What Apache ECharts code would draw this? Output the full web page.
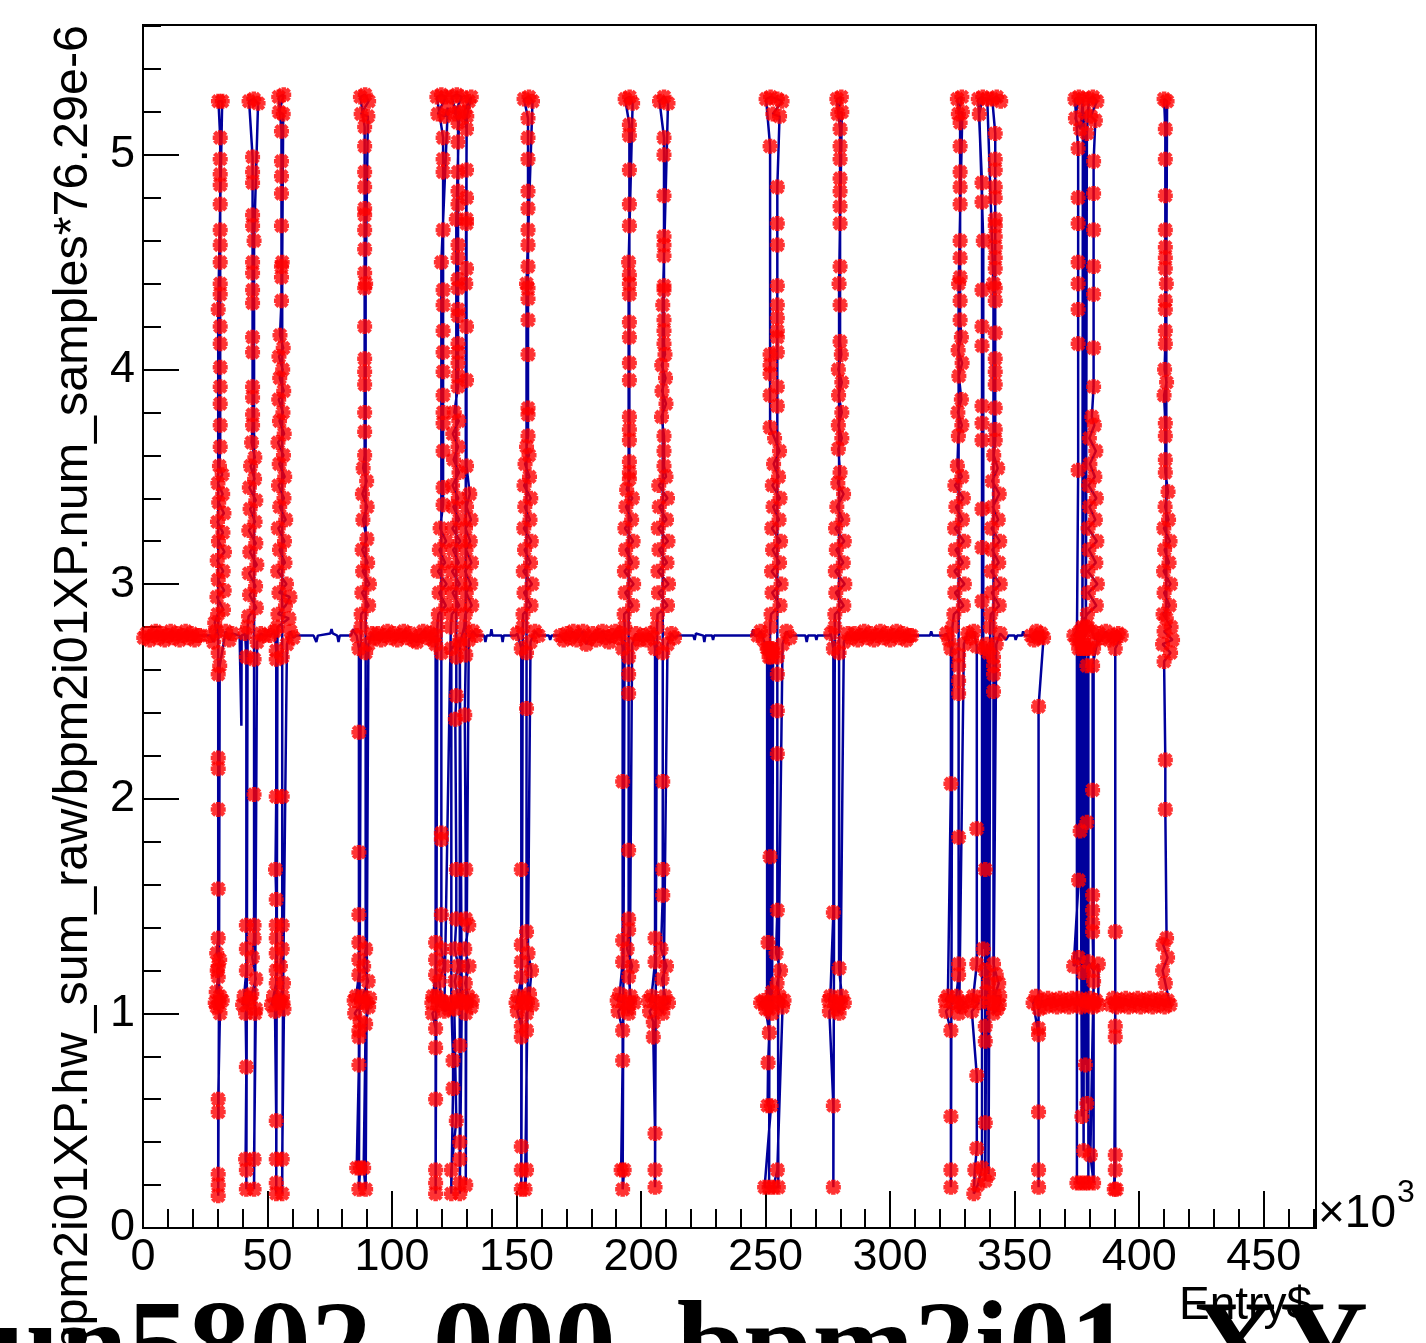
<!DOCTYPE html>
<html>
<head>
<meta charset="utf-8">
<script src="https://cdn.jsdelivr.net/npm/echarts@6/dist/echarts.min.js"></script>
<style>
html,body{margin:0;padding:0;background:#fff;}
#chart{width:1426px;height:1343px;}
</style>
</head>
<body>
<div id="chart"></div>
<script>
// Entry$ (x 10^3) vs value; tick labels
const xTickLabels = ['0','50','100','150','200','250','300','350','400','450'];
const yTickLabels = ['0','1','2','3','4','5'];

// ---- red segments (also part of the blue trace) ----
const band0 = [[0.3,2.75],[1.5,2.77],[2.7,2.74],[3.9,2.76],[5.1,2.78],[6.3,2.75],[7.5,2.77],[8.7,2.74],[9.9,2.76],[11.1,2.78],[12.3,2.75],[13.5,2.77],[14.7,2.74],[15.9,2.76],[17.1,2.78],[18.3,2.75],[19.5,2.77],[20.7,2.74],[21.9,2.76],[22.8,2.76]];
const burst1 = [[27.0,2.76],[28.3,2.73],[29.5,2.78],[28.8,2.82],
[30.0,2.86],[32.3,2.88],[29.7,2.94],[32.6,2.97],[30.2,3.02],[32.2,3.06],[29.8,3.11],[32.7,3.15],[30.3,3.20],[32.1,3.24],[29.9,3.29],[32.5,3.33],[30.4,3.38],[32.0,3.42],[30.1,3.47],[31.8,3.51],[30.7,3.55],
[31.0,3.64],[31.0,3.74],[31.0,3.84],[31.0,3.92],[31.0,4.01],[31.0,4.12],[31.0,4.20],[31.0,4.35],[31.0,4.40],[31.0,4.50],[31.0,4.58],[31.0,4.65],[31.0,4.77],[31.0,4.86],[31.0,4.91],[31.0,4.98],[31.0,5.08],[30.3,5.25],[31.8,5.25],
[30.2,4.28],[30.2,2.68],[30.2,2.58],[30.2,2.19],[30.2,2.14],[30.2,1.95],[30.2,1.58],[30.2,1.35],[29.6,1.28],[30.8,1.25],[30.2,1.22],[29.8,1.20],[30.2,1.17],[29.4,1.10],[30.9,1.08],[31.8,1.06],[29.0,1.05],[29.6,1.03],[30.9,1.00],[30.2,0.60],[30.2,0.54],[30.2,0.25],[30.2,0.20],[30.2,0.15],
[30.5,1.05],[30.8,2.62],[33.2,2.78],[34.6,2.74],[35.8,2.77]];
const burst2 = [[41.0,2.77],[41.5,2.66],[41.5,1.41],[41.5,1.30],[41.5,1.20],[40.6,1.08],[40.0,1.04],[42.4,1.05],[43.0,1.07],[41.2,1.00],[41.5,0.75],[41.2,0.32],[41.5,0.27],[41.5,0.18],
[42.0,2.80],[42.4,2.85],[45.5,2.89],[42.8,2.95],[45.2,2.99],[42.6,3.05],[45.7,3.09],[42.9,3.15],[45.3,3.19],[42.5,3.25],[45.0,3.29],[43.0,3.35],[45.3,3.39],[42.7,3.45],[44.8,3.49],[43.2,3.55],[44.9,3.59],[43.6,3.66],
[44.0,3.74],[44.0,3.79],[44.0,3.87],[44.0,3.92],[44.0,4.08],[44.0,4.15],[44.0,4.31],[44.0,4.37],[44.0,4.45],[44.0,4.50],[44.0,4.67],[44.0,4.72],[44.0,4.87],[44.0,4.92],[44.0,4.99],[42.6,5.25],[44.5,5.26],[46.2,5.24],
[44.6,4.60],[44.6,2.65],[44.6,2.02],[44.6,1.41],[44.6,1.35],[43.9,1.26],[45.3,1.16],[43.7,1.09],[45.3,1.02],[44.6,0.32],[44.6,0.18],
[45.0,1.00],[45.8,2.73],[47.3,2.77],[48.6,2.76]];
const burst3 = [[51.0,2.76],[52.8,2.78],[53.5,2.69],[53.5,2.65],[53.5,2.01],[53.2,1.67],[53.5,1.53],[53.5,1.41],[53.5,1.35],[53.5,1.28],[53.5,1.20],[53.5,1.14],[52.4,1.08],[51.6,1.04],[54.6,1.05],[53.0,1.01],[53.5,0.50],[53.5,0.32],[53.5,0.21],[53.5,0.16],
[54.0,2.80],[58.6,2.84],[54.2,2.86],[57.2,2.90],[59.0,2.94],[54.6,2.96],[57.6,3.00],[54.1,3.06],[57.0,3.10],[54.8,3.16],[56.8,3.20],[54.3,3.26],[57.3,3.30],[54.9,3.36],[56.6,3.40],[54.4,3.46],[56.9,3.50],[54.7,3.56],[56.4,3.60],[54.2,3.66],[56.7,3.70],[54.8,3.76],[56.2,3.80],[54.5,3.86],[56.5,3.90],[54.9,3.96],[56.1,4.00],[54.6,4.06],[56.3,4.10],[55.0,4.16],
[55.6,4.32],[55.6,4.43],[55.6,4.48],[55.6,4.67],[55.6,4.82],[55.6,4.90],[55.6,4.97],[55.6,5.11],[54.5,5.27],[56.5,5.28],[54.7,5.20],[56.3,5.19],
[55.9,4.50],[55.9,2.66],[55.9,2.01],[55.9,1.41],[55.9,1.30],[55.2,1.22],[56.4,1.14],[55.0,1.06],[56.0,1.08],[56.6,1.02],[55.9,0.32],[55.9,0.16],
[56.2,1.05],[57.8,2.72],[59.2,2.78],[60.3,2.75]];
const burst4 = [[85.8,2.76],[86.7,2.70],[86.7,2.31],[86.7,1.75],[86.7,1.46],[86.7,1.33],[86.7,1.25],[86.7,1.18],[85.6,1.08],[84.8,1.06],[87.8,1.05],[85.0,1.00],[87.2,0.96],[86.7,0.92],[86.7,0.89],[86.7,0.76],[85.8,0.28],[87.2,0.28],[86.7,0.18],
[87.5,2.80],[87.6,2.86],[90.6,2.90],[87.9,2.96],[90.9,3.00],[88.2,3.06],[90.2,3.10],[88.0,3.16],[89.9,3.21],[88.3,3.30],[90.0,3.36],[88.1,3.42],[89.8,3.48],[88.4,3.54],
[89.0,3.60],[89.0,3.71],[89.0,3.80],[89.0,3.93],[89.0,3.99],[89.0,4.05],[89.0,4.20],[89.0,4.38],[89.0,4.45],[89.0,4.56],[89.0,4.65],[89.0,4.72],[89.0,4.75],[89.0,4.85],[89.0,4.92],[89.0,5.04],[89.0,5.13],[87.3,5.27],[89.2,5.28],[90.6,5.25],[87.6,5.19],[90.3,5.18],
[89.4,4.40],[89.4,2.68],[89.4,1.30],[88.6,1.22],[90.4,1.15],[88.2,1.08],[91.0,1.07],[90.6,1.03],[89.4,0.95],[88.6,0.28],[89.4,0.18],
[89.8,1.05],[90.5,2.72],[92.0,2.77]];
const band1 = [[93.0,2.75],[94.3,2.77],[95.6,2.74],[96.9,2.76],[98.2,2.78],[99.5,2.75],[100.8,2.77],[102.1,2.74],[103.4,2.76],[104.7,2.78],[106.0,2.75],[107.3,2.77],[108.6,2.74],[109.9,2.73],[111.2,2.76],[112.5,2.78],[113.8,2.75],[115.1,2.77],[116.4,2.74],[117.4,2.76]];
const burst5 = [[117.5,2.72],[117.5,1.33],[117.5,1.25],[117.5,1.18],[116.4,1.08],[116.0,1.05],[118.0,1.08],[118.6,1.04],[116.2,1.00],[117.5,0.93],[117.5,0.84],[117.5,0.60],[117.5,0.27],[117.5,0.21],[117.5,0.16],
[118.2,2.80],[118.6,2.86],[121.6,2.90],[118.9,2.96],[121.9,3.00],[118.4,3.06],[121.3,3.10],[119.0,3.16],[121.7,3.20],[119.3,3.26],
[120.5,3.37],[120.5,3.45],[120.5,3.62],[120.5,3.75],[120.5,3.80],[120.5,3.88],[120.5,3.99],[120.5,4.08],[120.5,4.18],[120.5,4.30],[120.5,4.37],[120.5,4.65],[120.5,4.92],[120.5,4.98],[120.5,5.08],[118.0,5.27],[119.8,5.28],[121.6,5.27],[118.4,5.19],[121.2,5.18],[122.4,5.22],
[119.8,4.50],[119.8,2.68],[119.8,1.84],[119.8,1.81],[119.8,1.46],[119.8,1.30],[120.8,1.22],[119.0,1.15],[119.8,1.06],[121.8,1.05],[122.8,1.02],[121.0,1.01],
[123.6,2.80],[124.0,2.86],[127.0,2.90],[124.3,2.96],[127.2,3.00],[124.1,3.06],[126.8,3.10],[124.5,3.16],[127.4,3.20],[124.2,3.26],[127.0,3.30],[124.6,3.36],[126.6,3.40],[124.3,3.46],[126.9,3.52],[124.7,3.58],[126.5,3.64],[124.4,3.70],[126.8,3.76],[125.0,3.80],
[126.5,3.92],[126.5,3.97],[126.5,4.03],[126.5,4.08],[126.5,4.12],[126.5,4.25],[126.5,4.28],[126.5,4.38],[126.5,4.42],[126.5,4.52],[126.5,4.58],[126.5,4.77],[126.5,4.83],[126.5,4.92],[126.5,5.06],[126.5,5.15],[124.0,5.27],[126.0,5.28],[128.0,5.27],[125.0,5.19],[127.0,5.20],
[125.8,4.70],[125.8,2.66],[125.8,2.48],[125.4,2.37],[125.8,1.67],[125.8,1.44],[125.2,1.30],[126.6,1.22],[125.2,1.15],[126.4,1.08],[127.0,1.06],[125.0,1.02],[125.8,0.50],[123.8,0.27],[123.8,0.16],[124.5,0.65],[124.5,0.78],[123.8,1.05],[123.8,2.70],
[127.2,2.74],[127.2,0.85],[127.2,0.40],[127.2,0.32],[127.2,0.21],[127.2,0.16],[128.0,1.05],[127.2,2.72],
[129.0,2.80],[129.4,2.86],[132.0,2.90],[129.8,2.96],[131.6,3.00],[129.3,3.06],[131.9,3.10],[129.7,3.16],[131.4,3.20],[129.5,3.26],[131.7,3.30],[129.9,3.36],[131.2,3.42],
[129.9,3.55],[129.9,3.95],[129.9,4.20],[129.9,4.47],[129.9,4.68],[129.9,4.70],[129.9,4.80],[129.9,4.93],[129.9,5.12],[129.0,5.20],[130.8,5.25],[131.8,5.27],[130.0,5.18],
[129.6,4.40],[129.6,2.67],[129.2,2.39],[129.6,1.67],[129.6,1.44],[130.8,1.41],[129.2,1.30],[130.9,1.22],[129.4,1.14],[130.6,1.08],[131.8,1.03],[132.2,1.06],[129.6,1.00],[129.6,0.20],
[129.8,1.05],[130.8,2.74],[132.5,2.78],[133.8,2.76]];
const burst6 = [[150.3,2.77],[151.9,2.70],[151.9,1.67],[151.9,1.32],[151.9,1.24],[151.9,1.17],[150.6,1.08],[149.8,1.05],[152.8,1.05],[153.2,1.07],[150.3,1.01],[151.9,0.94],[151.9,0.89],[151.9,0.38],[151.9,0.27],[151.9,0.18],
[152.5,2.80],[152.6,2.86],[155.8,2.90],[153.0,2.96],[156.2,3.00],[152.7,3.06],[155.6,3.10],[153.2,3.16],[155.9,3.20],[152.9,3.26],[155.4,3.30],[153.3,3.36],[155.7,3.40],[153.0,3.46],[155.2,3.50],[153.4,3.56],[155.0,3.60],[154.0,3.64],
[154.6,3.69],[154.6,3.79],[154.6,3.82],[154.6,4.07],[154.6,4.23],[154.6,4.33],[154.6,4.38],[154.6,4.48],[154.6,4.58],[154.6,4.65],[154.6,4.75],[154.6,4.83],[154.6,4.98],[154.6,5.08],[154.6,5.17],[153.0,5.26],[155.0,5.27],[156.4,5.25],
[154.0,4.40],[154.0,2.68],[154.0,2.42],[154.0,1.38],[154.6,1.28],[156.0,1.20],[155.2,1.09],[156.2,1.04],[154.0,1.00],[154.0,0.92],[154.0,0.27],[153.4,0.18],
[154.4,1.05],[155.6,2.73],[157.4,2.78],[158.8,2.76]];
const band2 = [[167.6,2.76],[168.9,2.74],[170.2,2.77],[171.5,2.75],[172.8,2.78],[174.1,2.74],[175.4,2.76],[176.7,2.78],[178.0,2.72],[179.3,2.75],[180.6,2.77],[181.9,2.74],[183.2,2.76],[184.5,2.78],[185.8,2.75],[187.1,2.73],[188.4,2.76],[189.7,2.78],[191.0,2.75]];
const burst7 = [[192.0,2.77],[192.6,2.70],[192.6,2.08],[192.6,1.34],[192.6,1.24],[191.4,1.09],[190.4,1.06],[193.4,1.05],[190.8,1.01],[192.6,0.92],[192.6,0.78],[192.0,0.27],[193.2,0.27],[192.6,0.18],
[193.4,2.80],[193.2,2.86],[196.6,2.90],[193.6,2.96],[197.0,3.00],[193.3,3.06],[196.4,3.10],[193.8,3.16],[196.8,3.20],[193.5,3.26],[196.2,3.30],[193.9,3.36],[196.5,3.40],[194.2,3.44],
[195.3,3.49],[195.3,3.52],[195.3,3.57],[195.3,3.67],[195.3,3.72],[195.3,3.78],[195.3,3.95],[195.3,4.03],[195.3,4.15],[195.3,4.22],[195.3,4.35],[195.3,4.40],[195.3,4.44],[195.3,4.67],[195.3,4.77],[195.3,4.93],[195.3,5.09],[195.3,5.14],[193.6,5.26],[195.4,5.27],[196.6,5.24],
[195.0,4.50],[195.0,2.66],[195.0,2.58],[195.0,2.49],[195.0,1.76],[195.0,1.44],[195.0,1.39],[194.4,1.30],[196.4,1.22],[195.0,1.17],[195.8,1.08],[197.2,1.05],[194.6,1.02],[195.0,1.00],
[195.4,1.05],[196.4,2.72],[198.0,2.77],[199.4,2.74]];
const burst8 = [[200.8,2.76],[202.2,2.74],[203.6,2.77],[205.0,2.75],[205.6,2.70],[205.6,1.35],[205.6,1.24],[204.2,1.08],[203.0,1.06],[206.2,1.05],[203.4,1.01],[204.9,0.96],[204.9,0.89],[205.6,0.44],[205.6,0.27],[205.6,0.19],
[206.4,2.80],[206.6,2.86],[210.6,2.90],[207.0,2.96],[211.0,3.00],[206.8,3.06],[210.4,3.10],[207.2,3.16],[210.8,3.20],[206.9,3.26],[210.2,3.30],[207.3,3.36],[210.6,3.40],[207.1,3.46],[210.0,3.50],
[209.2,3.55],[209.2,3.62],[209.2,3.69],[208.2,3.78],[210.0,3.84],[208.4,3.90],[209.8,3.96],[208.3,4.02],[209.6,4.07],[209.2,4.12],[209.2,4.18],[209.2,4.23],[209.2,4.37],[209.2,4.39],[209.2,4.53],[209.2,4.58],[209.2,4.62],[209.2,4.81],[209.2,5.00],[209.2,5.08],[207.4,5.25],[209.2,5.27],[210.8,5.24],
[208.7,4.30],[208.7,2.68],[208.7,2.08],[208.7,1.67],[208.7,1.55],[208.0,1.30],[210.2,1.22],[208.4,1.16],[209.6,1.08],[211.0,1.05],[207.6,1.02],[208.7,1.00],
[209.0,1.05],[210.6,2.72],[212.2,2.77],[213.4,2.75]];
const burst9 = [[246.8,2.76],[248.0,2.78],[249.2,2.74],
[250.6,2.70],[250.6,1.05],[251.0,2.70],[251.0,1.33],[251.4,2.66],[251.4,1.02],[251.8,2.70],[251.8,1.73],[252.2,2.66],[252.2,1.05],[252.6,2.70],[252.6,1.10],[253.0,2.68],[252.6,1.00],
[249.2,1.06],[248.0,1.05],[250.0,1.02],[251.5,0.91],[251.0,0.77],[250.8,0.57],[252.2,0.57],[249.6,0.19],[251.4,0.19],
[251.8,2.80],[252.2,2.86],[255.8,2.90],[252.6,2.96],[256.2,3.00],[252.4,3.06],[255.6,3.10],[252.8,3.16],[256.0,3.20],[252.5,3.26],[255.4,3.30],[253.0,3.36],[255.8,3.40],[252.7,3.46],[255.2,3.50],[253.2,3.56],[255.6,3.62],[253.6,3.68],
[251.8,3.73],[251.8,3.88],[251.8,3.98],[251.8,4.02],[251.8,4.07],[251.8,5.04],[250.2,5.26],[252.0,5.27],
[254.7,5.26],[256.6,5.25],[252.9,5.19],[255.6,5.18],[254.7,4.85],[254.7,4.68],[254.7,4.58],[254.7,4.39],[254.7,4.30],[254.7,4.24],[254.7,4.18],[254.7,4.15],[254.7,4.08],[254.7,3.92],[254.7,3.83],
[254.7,2.66],[254.7,2.58],[254.7,2.41],[254.7,2.21],[254.7,1.48],[254.2,1.28],[256.0,1.20],[254.6,1.14],[255.6,1.08],[257.4,1.06],[256.8,1.03],[254.7,0.27],[253.1,0.19],[255.1,0.19],
[255.0,1.05],[256.8,2.72],[258.4,2.78],[259.8,2.75]];
const burst10 = [[276.2,2.77],[277.2,2.70],[277.2,1.47],[276.0,1.08],[275.4,1.06],[278.2,1.05],[275.6,1.01],[277.2,0.57],[277.2,0.19],
[277.8,2.80],[277.8,2.86],[281.4,2.90],[278.2,2.96],[281.8,3.00],[278.0,3.06],[281.2,3.10],[278.4,3.16],[281.6,3.20],[278.1,3.26],[281.0,3.30],[278.6,3.36],[281.3,3.42],[279.0,3.47],
[279.9,3.52],[279.2,3.63],[280.6,3.68],[279.2,3.74],[280.6,3.80],[279.3,3.88],[280.6,3.94],[279.2,4.00],[280.4,4.07],[279.9,4.13],[279.9,4.30],[279.9,4.48],[279.9,4.68],[279.9,4.76],[279.9,4.83],[279.9,4.89],[279.9,4.98],[279.9,5.04],[279.9,5.12],[278.6,5.26],[280.4,5.27],[279.0,5.19],[280.6,5.20],
[279.5,4.40],[279.5,2.68],[279.5,1.21],[280.6,1.08],[281.6,1.05],[278.8,1.02],[279.5,1.00],
[280.0,1.05],[281.4,2.73],[283.0,2.77]];
const band3 = [[284.4,2.75],[285.7,2.77],[287.0,2.74],[288.3,2.76],[289.6,2.78],[290.9,2.75],[292.2,2.77],[293.5,2.74],[294.8,2.76],[296.1,2.78],[297.4,2.75],[298.7,2.77],[300.0,2.74],[301.3,2.76],[302.6,2.78],[303.9,2.75],[305.2,2.77],[306.5,2.74],[307.8,2.76],[308.6,2.76]];
const burst11 = [[322.6,2.77],[323.6,2.74],[324.4,2.70],[324.4,2.07],[323.2,1.08],[322.2,1.06],[325.2,1.05],[322.4,1.01],[324.4,0.92],[324.4,0.52],[324.4,0.27],[324.4,0.19],
[325.0,2.80],[325.6,2.86],[329.4,2.90],[326.0,2.96],[329.8,3.00],[325.8,3.06],[329.2,3.10],[326.2,3.16],[329.6,3.20],[325.9,3.26],[329.0,3.30],[326.4,3.36],[329.4,3.40],[326.0,3.46],[328.8,3.50],[327.0,3.55],
[327.4,3.69],[328.8,3.74],[327.2,3.80],[328.6,3.86],[327.6,3.97],[328.9,4.03],[327.3,4.09],[328.6,4.15],[328.1,4.23],[328.1,4.32],[328.1,4.43],[328.1,4.52],[328.1,4.60],[328.1,4.77],[328.1,4.85],[328.1,4.92],[328.1,5.04],[328.1,5.15],[327.0,5.26],[328.8,5.27],[327.4,5.19],[329.0,5.20],
[327.5,4.40],[327.5,2.67],[327.5,2.62],[327.5,2.55],[327.5,2.49],[327.5,1.82],[327.5,1.23],[327.5,1.18],[326.6,1.08],[329.8,1.05],[328.6,1.03],[327.5,1.00],
[327.8,1.05],[329.6,2.72],[331.2,2.77],[332.6,2.75]];
const burst12 = [[333.6,2.78],[334.8,2.71],[334.8,1.86],[334.8,1.23],[333.4,1.08],[333.0,1.06],[335.6,1.05],[332.8,1.01],[334.8,0.71],[334.8,0.37],[334.0,0.27],[333.6,0.16],[335.2,0.20],
[336.9,0.28],[336.9,2.92],[336.9,3.17],[336.9,3.35],[336.9,3.67],[336.9,3.75],[336.9,3.83],[336.9,4.11],[336.9,4.20],[336.9,4.37],[336.9,4.78],[336.9,4.87],[335.4,5.26],[337.2,5.27],[335.8,5.19],
[337.4,4.60],[337.4,1.30],[338.0,2.70],[338.2,1.67],[338.2,1.20],[338.2,0.94],[338.2,0.87],[338.2,0.49],[338.2,0.22],[338.6,1.10],[338.8,2.72],
[339.5,2.68],[339.5,1.14],[339.5,0.25],[339.8,1.05],[340.2,2.80],
[340.4,2.86],[343.8,2.90],[340.8,2.96],[344.2,3.00],[340.6,3.06],[343.6,3.10],[341.0,3.16],[344.0,3.20],[340.7,3.26],[343.4,3.30],[341.2,3.36],[343.8,3.42],[341.0,3.48],[343.2,3.54],[341.6,3.60],
[342.2,3.67],[342.2,3.72],[342.2,3.82],[342.2,3.93],[342.2,3.99],[342.2,4.05],[342.2,4.17],[342.2,4.32],[342.2,4.38],[342.2,4.47],[342.2,4.52],[342.2,4.57],[342.2,4.62],[342.2,4.67],[342.2,4.70],[342.2,4.80],[342.2,4.85],[342.2,4.93],[342.2,4.98],[342.2,5.10],[341.0,5.26],[342.8,5.27],[344.4,5.25],[339.0,5.26],
[341.5,4.40],[341.5,2.66],[341.5,2.62],[341.5,2.58],[341.5,2.50],[341.5,1.23],[342.6,1.18],[343.6,1.14],[342.0,1.08],[344.0,1.08],[343.8,1.04],[343.0,1.02],[341.5,1.00],[341.5,1.05],[342.6,2.72],[344.2,2.77]];
const drop1 = [[356.6,2.76],[357.8,2.74],[358.8,2.78],[359.6,2.75],[360.6,2.77],[361.6,2.75],[359.6,2.43],[359.6,0.54],[359.6,0.27],[359.6,0.19],[359.6,0.93],[359.6,0.90],
[357.4,1.05],[358.6,1.08],[359.8,1.02],[361.0,1.06],[362.2,1.03],[363.4,1.07],[364.6,1.04],[365.8,1.06],[367.0,1.03],[368.2,1.07],[369.4,1.04],[370.6,1.06],[371.8,1.03],[373.0,1.07]];
const burst13 = [[374.2,1.04],[375.4,1.07],[376.6,1.03],[377.8,1.06],[379.0,1.04],[380.2,1.07],[381.4,1.03],[382.6,1.06],[383.6,1.04],
[383.6,1.23],[381.6,1.20],[379.6,1.24],[377.6,1.19],[375.6,1.26],[373.7,1.22],
[375.7,1.62],[375.7,2.70],[376.3,1.85],[376.3,2.74],[377.0,0.52],[377.0,2.70],[377.7,0.36],[377.7,2.72],[378.4,0.76],[378.4,2.70],[379.0,0.58],[379.0,2.62],[379.0,1.89],[379.6,2.70],[379.6,0.21],[378.2,0.21],[376.6,0.21],[375.0,0.21],[375.0,2.74],
[375.5,3.53],[375.5,4.12],[375.5,4.28],[375.5,4.40],[375.5,4.50],[375.5,4.68],[375.5,4.80],[375.5,5.03],[374.2,5.26],[375.8,5.27],[374.4,5.17],[376.4,5.12],[377.4,5.26],
[377.2,2.80],[378.0,5.20],[378.6,2.80],[379.0,5.10],[379.8,5.26],[381.4,5.27],[383.0,5.25],[380.6,5.18],[382.4,5.16],
[381.7,4.97],[381.7,4.82],[381.7,4.65],[381.7,4.48],[381.7,4.35],[381.7,4.10],[381.7,3.92],
[381.0,3.78],[382.0,3.74],[380.0,3.68],[382.6,3.62],[380.2,3.56],[382.2,3.50],[379.7,3.46],[382.8,3.40],[380.0,3.36],[382.4,3.30],[379.5,3.26],[383.0,3.20],[379.8,3.16],[382.6,3.10],[379.4,3.06],[383.2,3.00],[379.6,2.96],[382.8,2.90],[379.2,2.86],
[373.8,2.76],[376.2,2.78],[377.6,2.74],[379.4,2.80],[381.0,2.78],[382.4,2.74],[383.8,2.77],
[381.3,2.62],[381.3,2.04],[381.3,1.55],[381.3,1.48],[381.3,1.42],[381.3,1.38],[381.7,1.15],[380.4,0.34],[381.7,0.21],[381.7,1.05],[381.7,2.70],
[385.2,2.75],[386.6,2.78],[388.0,2.74],[389.4,2.76],[390.4,2.75],[391.6,2.77],[392.8,2.76],
[390.4,2.70],[390.4,1.38],[390.4,0.94],[390.4,0.89],[390.4,0.34],[390.4,0.27],[390.0,0.18],[390.8,0.18],[390.4,1.05]];
const band5 = [[388.6,1.04],[389.6,1.07],[391.0,1.03],[392.2,1.06],[393.4,1.04],[394.6,1.07],[395.8,1.03],[397.0,1.06],[398.2,1.04],[399.4,1.07],[400.6,1.03],[401.8,1.06],[403.0,1.04],[404.2,1.07],[405.4,1.03],[406.6,1.06],[407.8,1.04],[409.0,1.07],[410.2,1.03],[411.4,1.06],[412.4,1.04]];
const burst14 = [[410.5,1.14],[409.4,1.20],[411.4,1.26],[409.6,1.32],[411.0,1.35],[410.5,1.95],[410.5,2.18],
[410.0,2.64],[412.6,2.68],[409.4,2.72],[413.4,2.74],[410.0,2.78],[412.8,2.80],
[409.6,2.86],[412.2,2.90],[410.0,2.96],[412.6,3.00],[409.8,3.06],[412.0,3.10],[410.2,3.16],[412.4,3.20],[409.9,3.26],[411.8,3.30],[410.4,3.36],[411.6,3.43],
[410.5,3.52],[410.5,3.58],[410.5,3.69],[410.5,3.75],[410.0,3.88],[411.0,3.94],[410.2,4.00],[410.5,4.12],[410.5,4.18],[410.5,4.28],[410.5,4.32],[410.5,4.47],[410.5,4.52],[410.5,4.57],[410.5,4.65],[410.5,4.81],[410.5,4.98],[410.5,5.12],[410.0,5.26],[411.2,5.25],
[410.9,4.40],[410.9,2.84]];

// ---- blue-only stretches of the trace ----
const spike1 = [[38.8,2.76],[39.4,2.76],[39.5,2.34],[39.6,2.76]];
const flatB = [[61.5,2.76],[68.5,2.76],[69.6,2.73],[70.2,2.76],[75.2,2.77],[75.7,2.79],[76.2,2.77],[78.0,2.76],[78.5,2.73],[79.0,2.76],[83.5,2.76],[84.4,2.79],[85.2,2.77]];
const flatC = [[134.5,2.76],[137.0,2.76],[137.5,2.73],[138.0,2.76],[139.5,2.76],[139.9,2.79],[140.3,2.76],[144.0,2.76],[144.4,2.73],[144.8,2.76],[149.5,2.76]];
const flatD = [[159.5,2.76],[163.0,2.76],[163.5,2.74],[164.0,2.76],[166.5,2.76]];
const flatE = [[214.5,2.76],[221.0,2.76],[221.5,2.74],[222.0,2.77],[225.0,2.76],[225.4,2.73],[225.8,2.76],[228.5,2.76],[228.9,2.74],[229.3,2.76],[235.0,2.76],[240.0,2.76],[244.5,2.76],[245.0,2.79],[245.5,2.76]];
const flatF = [[260.5,2.76],[266.0,2.76],[266.5,2.73],[267.0,2.76],[270.0,2.76],[270.4,2.74],[270.8,2.76],[275.5,2.76]];
const flatG = [[309.5,2.76],[316.0,2.76],[316.5,2.78],[317.0,2.76],[322.0,2.76]];
const flatH = [[345.0,2.76],[346.5,2.74],[347.5,2.76],[350.0,2.76],[350.4,2.74],[351.0,2.76],[353.0,2.76],[353.4,2.78],[354.0,2.76],[356.0,2.76]];

const traceOrder = [band0, burst1, spike1, burst2, burst3, flatB, burst4, band1, burst5, flatC, burst6, flatD, band2, burst7, burst8, flatE, burst9, flatF, burst10, band3, flatG, burst11, burst12, flatH, drop1, burst13, band5, burst14];
const markerSets = [band0, burst1, burst2, burst3, burst4, band1, burst5, burst6, band2, burst7, burst8, burst9, burst10, band3, burst11, burst12, drop1, burst13, band5, burst14];

const lineData = [].concat(...traceOrder);
const markerData = [].concat(...markerSets);

const X_MAX = 471, Y_MAX = 5.605;
const SANS = '"Liberation Sans", Arial, Helvetica, sans-serif';
const asterisk = 'path://M-1.8,-6L1.8,-6L1.8,6L-1.8,6Z M-6,-1.8L6,-1.8L6,1.8L-6,1.8Z M-5.77,-3.23L-3.23,-5.77L5.77,3.23L3.23,5.77Z M3.23,-5.77L5.77,-3.23L-3.23,5.77L-5.77,3.23Z';

const chart = echarts.init(document.getElementById('chart'), null, {renderer: 'canvas'});
chart.setOption({
  animation: false,
  backgroundColor: '#fff',
  grid: {left: 143, right: 110, top: 25, bottom: 115, show: true, borderColor: '#000', borderWidth: 2, backgroundColor: 'transparent'},
  xAxis: [
    {type: 'value', min: 0, max: X_MAX, interval: 50, position: 'bottom',
     axisLine: {show: true, lineStyle: {color: '#000', width: 2}},
     axisTick: {show: true, inside: true, length: 37, lineStyle: {color: '#000', width: 2}},
     axisLabel: {show: true, color: '#000', fontSize: 45, fontFamily: SANS, margin: 7, showMaxLabel: false,
       formatter: v => xTickLabels[Math.round(v / 50)] || ''},
     splitLine: {show: false}},
    {type: 'value', min: 0, max: X_MAX, interval: 10, position: 'bottom',
     axisLine: {show: false}, axisLabel: {show: false}, splitLine: {show: false},
     axisTick: {show: true, inside: true, length: 19, lineStyle: {color: '#000', width: 2}}}
  ],
  yAxis: [
    {type: 'value', min: 0, max: Y_MAX, interval: 1, position: 'left',
     axisLine: {show: true, lineStyle: {color: '#000', width: 2}},
     axisTick: {show: true, inside: true, length: 36, lineStyle: {color: '#000', width: 2}},
     axisLabel: {show: true, color: '#000', fontSize: 45, fontFamily: SANS, margin: 8, showMaxLabel: false,
       formatter: v => yTickLabels[Math.round(v)] || ''},
     splitLine: {show: false}},
    {type: 'value', min: 0, max: Y_MAX, interval: 0.2, position: 'left',
     axisLine: {show: false}, axisLabel: {show: false}, splitLine: {show: false},
     axisTick: {show: true, inside: true, length: 18, lineStyle: {color: '#000', width: 2}}}
  ],
  series: [
    {type: 'line', xAxisIndex: 0, yAxisIndex: 0, data: lineData, showSymbol: false, silent: true,
     lineStyle: {color: '#00009c', width: 2.5}, z: 2},
    {type: 'scatter', xAxisIndex: 0, yAxisIndex: 0, data: markerData, symbol: asterisk, symbolSize: 15, silent: true,
     itemStyle: {color: '#ff0000'}, z: 3}
  ],
  graphic: [
    {type: 'text', x: 74, y: 25, rotation: Math.PI / 2, z: 10,
     style: {text: 'bpm2i01XP.hw_sum_raw/bpm2i01XP.num_samples*76.29e-6', font: '48.5px ' + SANS, fill: '#000', align: 'right', verticalAlign: 'middle'}},
    {type: 'text', x: 1318, y: 1214, z: 10,
     style: {text: '×10', font: '46px ' + SANS, fill: '#000', align: 'left', verticalAlign: 'middle'}},
    {type: 'text', x: 1397, y: 1193, z: 10,
     style: {text: '3', font: '32px ' + SANS, fill: '#000', align: 'left', verticalAlign: 'middle'}},
    {type: 'text', x: 1312, y: 1306, z: 10,
     style: {text: 'Entry$', font: '46px ' + SANS, fill: '#000', align: 'right', verticalAlign: 'middle'}},
    {type: 'text', x: -8, y: 1353, z: 11,
     style: {text: 'un5802_000_bpm2i01_XY', font: 'bold 122px "Liberation Serif", "Times New Roman", serif', fill: '#000', align: 'left', verticalAlign: 'middle'}}
  ]
});
</script>
</body>
</html>
